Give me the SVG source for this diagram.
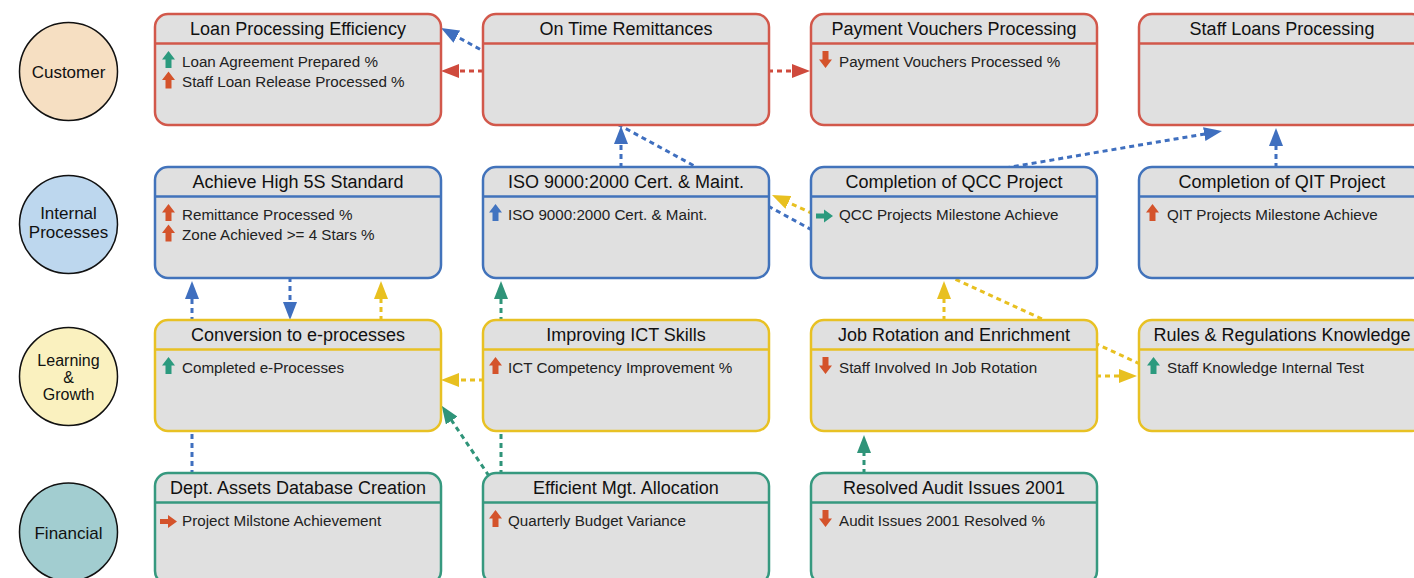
<svg xmlns="http://www.w3.org/2000/svg" xmlns:xlink="http://www.w3.org/1999/xlink" width="1414" height="578" viewBox="0 0 1414 578">
<style>
.persp circle{stroke:#111;stroke-width:1.5}
.plabel{font-family:"Liberation Sans",Arial,sans-serif;font-size:17px;fill:#111;text-anchor:middle}
.plabel.s{font-size:16px}
.node rect{fill:#e0e0e0;stroke-width:2.5}
.node line{stroke-width:2.5}
.red rect,.red line{stroke:#d2584b}
.blue rect,.blue line{stroke:#4273bb}
.yellow rect,.yellow line{stroke:#e8c124}
.teal rect,.teal line{stroke:#36997f}
.title{font-family:"Liberation Sans",Arial,sans-serif;font-size:18px;fill:#111;text-anchor:middle}
.item{font-family:"Liberation Sans",Arial,sans-serif;font-size:15.2px;fill:#222}
.conn path{fill:none;stroke-width:3;stroke-dasharray:5 4}
.c-red{stroke:#cf4a3d}
.c-blue{stroke:#3f6fbf}
.c-yellow{stroke:#e8c020}
.c-teal{stroke:#2f9479}
.g{fill:#2b9a7e}
.o{fill:#d4532b}
.b{fill:#4274c0}
</style>
<defs>
<marker id="ar" markerUnits="userSpaceOnUse" viewBox="0 0 18 14" markerWidth="18" markerHeight="14" refX="4" refY="7" orient="auto"><path d="M0,0 L18,7 L0,14 Z" fill="#cf4a3d"/></marker>
<marker id="ab" markerUnits="userSpaceOnUse" viewBox="0 0 18 14" markerWidth="18" markerHeight="14" refX="4" refY="7" orient="auto"><path d="M0,0 L18,7 L0,14 Z" fill="#3f6fbf"/></marker>
<marker id="ay" markerUnits="userSpaceOnUse" viewBox="0 0 18 14" markerWidth="18" markerHeight="14" refX="4" refY="7" orient="auto"><path d="M0,0 L18,7 L0,14 Z" fill="#e8c020"/></marker>
<marker id="at" markerUnits="userSpaceOnUse" viewBox="0 0 18 14" markerWidth="18" markerHeight="14" refX="4" refY="7" orient="auto"><path d="M0,0 L18,7 L0,14 Z" fill="#2f9479"/></marker>
<path id="up" d="M6.5,0 L13,8.5 L9.5,8.5 L9.5,17 L3.5,17 L3.5,8.5 L0,8.5 Z"/>
<path id="down" d="M3.5,0 L9.5,0 L9.5,8.5 L13,8.5 L6.5,17 L0,8.5 L3.5,8.5 Z"/>
<path id="right" d="M0,4 L8,4 L8,0 L17,6.5 L8,13 L8,9 L0,9 Z"/>
</defs>
<rect width="1414" height="578" fill="#ffffff"/>

<g id="perspectives" class="persp">
<g id="customer"><circle cx="68.5" cy="71.5" r="49" fill="#f6dfc2"/><text class="plabel" x="68.5" y="77.5">Customer</text></g>
<g id="internal-processes"><circle cx="68.5" cy="224.5" r="49" fill="#bdd7ee"/><text class="plabel" x="68.5" y="218.5">Internal</text><text class="plabel" x="68.5" y="237.5">Processes</text></g>
<g id="learning-growth"><circle cx="68.5" cy="376.5" r="49" fill="#faf1bf"/><text class="plabel s" x="68.5" y="366">Learning</text><text class="plabel s" x="68.5" y="383">&amp;</text><text class="plabel s" x="68.5" y="400">Growth</text></g>
<g id="financial"><circle cx="68.5" cy="532" r="49" fill="#a2cdd0"/><text class="plabel" x="68.5" y="538.5">Financial</text></g>
</g>

<g id="connectors" class="conn">
<path class="c-blue" d="M812,230 L453.3,34.7" marker-end="url(#ab)"/>
<path class="c-red" d="M483,71 L455,71" marker-end="url(#ar)"/>
<path class="c-red" d="M768,71 L796,71" marker-end="url(#ar)"/>
<path class="c-blue" d="M621,168 L621,140" marker-end="url(#ab)"/>
<path class="c-blue" d="M1005,168 L1208.2,133.4" marker-end="url(#ab)"/>
<path class="c-blue" d="M1276,168 L1276,142" marker-end="url(#ab)"/>
<path class="c-yellow" d="M1140,364 L784.7,200.8" marker-end="url(#ay)"/>
<path class="c-blue" d="M192,475 L192,295" marker-end="url(#ab)"/>
<path class="c-blue" d="M290,277 L290,306" marker-end="url(#ab)"/>
<path class="c-yellow" d="M381,321 L381,295" marker-end="url(#ay)"/>
<path class="c-teal" d="M501,475 L501,295" marker-end="url(#at)"/>
<path class="c-yellow" d="M484,380 L455,380" marker-end="url(#ay)"/>
<path class="c-teal" d="M489,476 L449.5,417.3" marker-end="url(#at)"/>
<path class="c-yellow" d="M944,321 L944,295" marker-end="url(#ay)"/>
<path class="c-yellow" d="M1096,376 L1123,376" marker-end="url(#ay)"/>
<path class="c-teal" d="M864,474 L864,449" marker-end="url(#at)"/>
</g>

<g id="loan-processing-efficiency" class="node red">
<rect x="155" y="14" width="286" height="111" rx="13"/><line x1="155" y1="43.5" x2="441" y2="43.5"/>
<text class="title" x="298" y="35">Loan Processing Efficiency</text>
<use href="#up" x="162" y="51" class="g"/><text class="item" x="182" y="66.5">Loan Agreement Prepared %</text>
<use href="#up" x="162" y="71.5" class="o"/><text class="item" x="182" y="87">Staff Loan Release Processed %</text>
</g>
<g id="on-time-remittances" class="node red">
<rect x="483" y="14" width="286" height="111" rx="13"/><line x1="483" y1="43.5" x2="769" y2="43.5"/>
<text class="title" x="626" y="35">On Time Remittances</text>
</g>
<g id="payment-vouchers-processing" class="node red">
<rect x="811" y="14" width="286" height="111" rx="13"/><line x1="811" y1="43.5" x2="1097" y2="43.5"/>
<text class="title" x="954" y="35">Payment Vouchers Processing</text>
<use href="#down" x="819" y="51" class="o"/><text class="item" x="839" y="66.5">Payment Vouchers Processed %</text>
</g>
<g id="staff-loans-processing" class="node red">
<rect x="1139" y="14" width="286" height="111" rx="13"/><line x1="1139" y1="43.5" x2="1425" y2="43.5"/>
<text class="title" x="1282" y="35">Staff Loans Processing</text>
</g>

<g id="achieve-high-5s-standard" class="node blue">
<rect x="155" y="167" width="286" height="111" rx="13"/><line x1="155" y1="196.5" x2="441" y2="196.5"/>
<text class="title" x="298" y="188">Achieve High 5S Standard</text>
<use href="#up" x="162" y="204" class="o"/><text class="item" x="182" y="219.5">Remittance Processed %</text>
<use href="#up" x="162" y="224.5" class="o"/><text class="item" x="182" y="240">Zone Achieved &gt;= 4 Stars %</text>
</g>
<g id="iso-9000-cert" class="node blue">
<rect x="483" y="167" width="286" height="111" rx="13"/><line x1="483" y1="196.5" x2="769" y2="196.5"/>
<text class="title" x="626" y="188">ISO 9000:2000 Cert. &amp; Maint.</text>
<use href="#up" x="489" y="204" class="b"/><text class="item" x="508" y="219.5">ISO 9000:2000 Cert. &amp; Maint.</text>
</g>
<g id="completion-of-qcc-project" class="node blue">
<rect x="811" y="167" width="286" height="111" rx="13"/><line x1="811" y1="196.5" x2="1097" y2="196.5"/>
<text class="title" x="954" y="188">Completion of QCC Project</text>
<use href="#right" x="816" y="209.5" class="g"/><text class="item" x="839" y="219.5">QCC Projects Milestone Achieve</text>
</g>
<g id="completion-of-qit-project" class="node blue">
<rect x="1139" y="167" width="286" height="111" rx="13"/><line x1="1139" y1="196.5" x2="1425" y2="196.5"/>
<text class="title" x="1282" y="188">Completion of QIT Project</text>
<use href="#up" x="1146" y="204" class="o"/><text class="item" x="1167" y="219.5">QIT Projects Milestone Achieve</text>
</g>

<g id="conversion-to-e-processes" class="node yellow">
<rect x="155" y="320" width="286" height="111" rx="13"/><line x1="155" y1="349.5" x2="441" y2="349.5"/>
<text class="title" x="298" y="341">Conversion to e-processes</text>
<use href="#up" x="162" y="357" class="g"/><text class="item" x="182" y="372.5">Completed e-Processes</text>
</g>
<g id="improving-ict-skills" class="node yellow">
<rect x="483" y="320" width="286" height="111" rx="13"/><line x1="483" y1="349.5" x2="769" y2="349.5"/>
<text class="title" x="626" y="341">Improving ICT Skills</text>
<use href="#up" x="489" y="357" class="o"/><text class="item" x="508" y="372.5">ICT Competency Improvement %</text>
</g>
<g id="job-rotation-and-enrichment" class="node yellow">
<rect x="811" y="320" width="286" height="111" rx="13"/><line x1="811" y1="349.5" x2="1097" y2="349.5"/>
<text class="title" x="954" y="341">Job Rotation and Enrichment</text>
<use href="#down" x="819" y="357" class="o"/><text class="item" x="839" y="372.5">Staff Involved In Job Rotation</text>
</g>
<g id="rules-regulations-knowledge" class="node yellow">
<rect x="1139" y="320" width="286" height="111" rx="13"/><line x1="1139" y1="349.5" x2="1425" y2="349.5"/>
<text class="title" x="1282" y="341">Rules &amp; Regulations Knowledge</text>
<use href="#up" x="1147" y="357" class="g"/><text class="item" x="1167" y="372.5">Staff Knowledge Internal Test</text>
</g>

<g id="dept-assets-database-creation" class="node teal">
<rect x="155" y="473" width="286" height="111" rx="13"/><line x1="155" y1="502.5" x2="441" y2="502.5"/>
<text class="title" x="298" y="494">Dept. Assets Database Creation</text>
<use href="#right" x="160" y="515" class="o"/><text class="item" x="182" y="525.5">Project Milstone Achievement</text>
</g>
<g id="efficient-mgt-allocation" class="node teal">
<rect x="483" y="473" width="286" height="111" rx="13"/><line x1="483" y1="502.5" x2="769" y2="502.5"/>
<text class="title" x="626" y="494">Efficient Mgt. Allocation</text>
<use href="#up" x="489" y="510" class="o"/><text class="item" x="508" y="525.5">Quarterly Budget Variance</text>
</g>
<g id="resolved-audit-issues-2001" class="node teal">
<rect x="811" y="473" width="286" height="111" rx="13"/><line x1="811" y1="502.5" x2="1097" y2="502.5"/>
<text class="title" x="954" y="494">Resolved Audit Issues 2001</text>
<use href="#down" x="819" y="510" class="o"/><text class="item" x="839" y="525.5">Audit Issues 2001 Resolved %</text>
</g>
</svg>
